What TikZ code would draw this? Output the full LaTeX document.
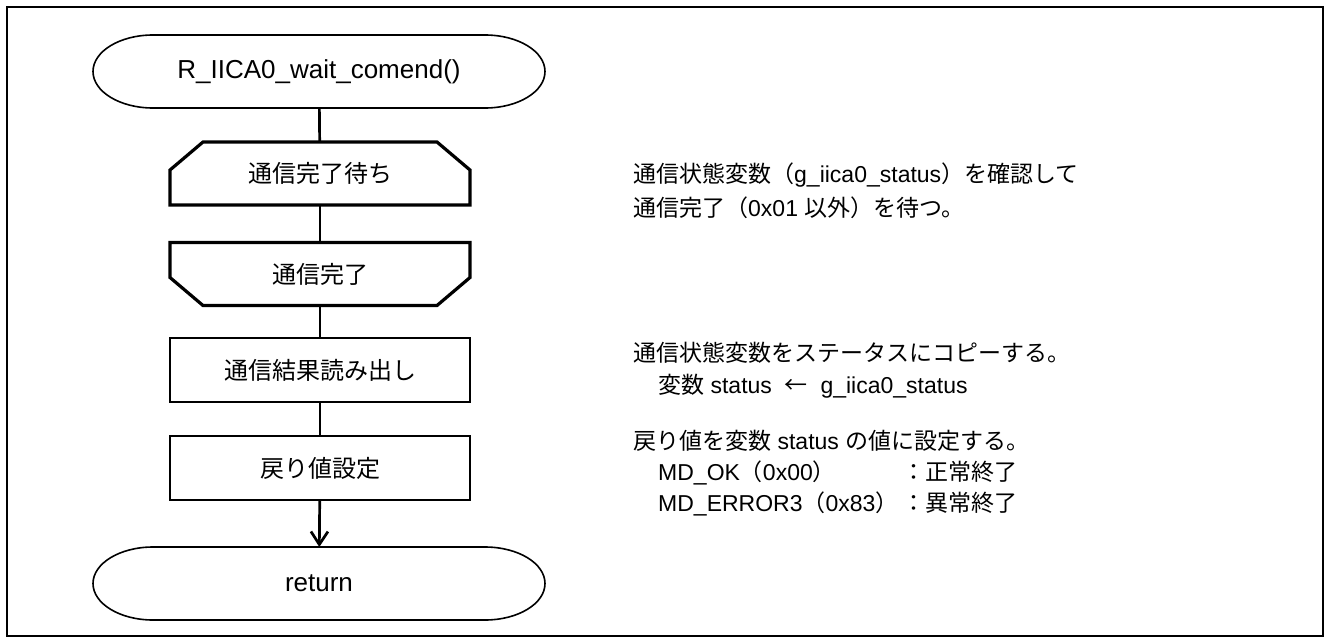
\documentclass[tikz,border=0pt]{standalone}
\usepackage{fontspec}
\setmainfont{Liberation Sans}
\newfontfamily\jpfont{Noto Sans CJK JP}
\usetikzlibrary{arrows.meta}
\newcommand{\jp}[1]{{\jpfont #1}}
% terminal outline with elliptic ends round a named node
\newcommand{\termshape}[1]{%
  \draw[termline] ([xshift=60pt]#1.north west) -- ([xshift=-60pt]#1.north east)
    arc[start angle=90,end angle=-90,x radius=60pt,y radius=36.5pt]
    -- ([xshift=60pt]#1.south west)
    arc[start angle=270,end angle=90,x radius=60pt,y radius=36.5pt] -- cycle;}
% loop limits: corners cut on top (start) or bottom (end)
\newcommand{\loopstartshape}[1]{%
  \draw[loopline] ([yshift=-28pt]#1.north west) -- ([xshift=33pt]#1.north west)
    -- ([xshift=-33pt]#1.north east) -- ([yshift=-28pt]#1.north east)
    -- (#1.south east) -- (#1.south west) -- cycle;}
\newcommand{\loopendshape}[1]{%
  \draw[loopline] (#1.north west) -- (#1.north east)
    -- ([yshift=28pt]#1.south east) -- ([xshift=-33pt]#1.south east)
    -- ([xshift=33pt]#1.south west) -- ([yshift=28pt]#1.south west) -- cycle;}

\tikzset{
  frameline/.style={line width=2.2pt},
  termline/.style={line width=1.6pt},
  loopline/.style={line width=3.2pt, line join=miter},
  term/.style={rectangle, minimum width=452pt, minimum height=73pt, inner sep=0pt, outer sep=0pt, font=\fontsize{26}{30}\selectfont},
  loopbox/.style={rectangle, minimum width=300pt, minimum height=63pt, inner sep=0pt, outer sep=0pt, font=\fontsize{24}{28}\selectfont},
  procbox/.style={rectangle, draw, line width=1.6pt, minimum width=300pt, minimum height=64pt, inner sep=0pt, outer sep=0pt, font=\fontsize{24}{28}\selectfont},
  conn/.style={line width=2.7pt},
  note/.style={anchor=west, inner sep=0pt, text height=20pt, text depth=3pt, font=\fontsize{23}{28}\selectfont},
}

\begin{document}
\begin{tikzpicture}[x=1pt,y=1pt]
    \useasboundingbox (0,0) rectangle (1325,-640);
    \draw [frameline] (7,-7) rectangle (1323,-636);

    % flow
    \node [term] (start) at (319,-71.5) {R\_IICA0\_wait\_comend()};
    \termshape{start}
    \node [loopbox] (wait) at (320,-173.5) {\jp{通信完了待ち}};
    \loopstartshape{wait}
    \node [loopbox] (done) at (320,-274) {\jp{通信完了}};
    \loopendshape{done}
    \node [procbox] (read) at (320,-370) {\jp{通信結果読み出し}};
    \node [procbox] (setret) at (320,-468) {\jp{戻り値設定}};
    \node [term] (finish) at (319,-583.5) {return};
    \termshape{finish}

    \draw [conn] (start) -- (wait);
    \draw [conn] (wait) -- (done);
    \draw [conn] (done) -- (read);
    \draw [conn] (read) -- (setret);
    \draw [conn, -{Straight Barb[length=13pt,width=17pt]}] (setret) -- (finish);

    % notes
    \node [note] (n1) at (633,-173.5) {\jp{通信状態変数（}g\_iica0\_status\jp{）を確認して}};
    \node [note] (n2) at (633,-207.5) {\jp{通信完了（}0x01 \jp{以外）を待つ。}};
    \node [note] (n3) at (633,-353) {\jp{通信状態変数をステータスにコピーする。}};
    \node [note] (n4) at (658,-385) {\jp{変数} status \ \jp{←} \ g\_iica0\_status};
    \node [note] (n5) at (633,-441) {\jp{戻り値を変数} status \jp{の値に設定する。}};
    \node [note] (n6) at (658,-472) {MD\_OK\jp{（}0x00\jp{）}};
    \node [note] (n7) at (658,-503) {MD\_ERROR3\jp{（}0x83\jp{）}};
    \node [note] (n6b) at (902,-472) {\jp{：正常終了}};
    \node [note] (n7b) at (902,-503) {\jp{：異常終了}};
\end{tikzpicture}
\end{document}
